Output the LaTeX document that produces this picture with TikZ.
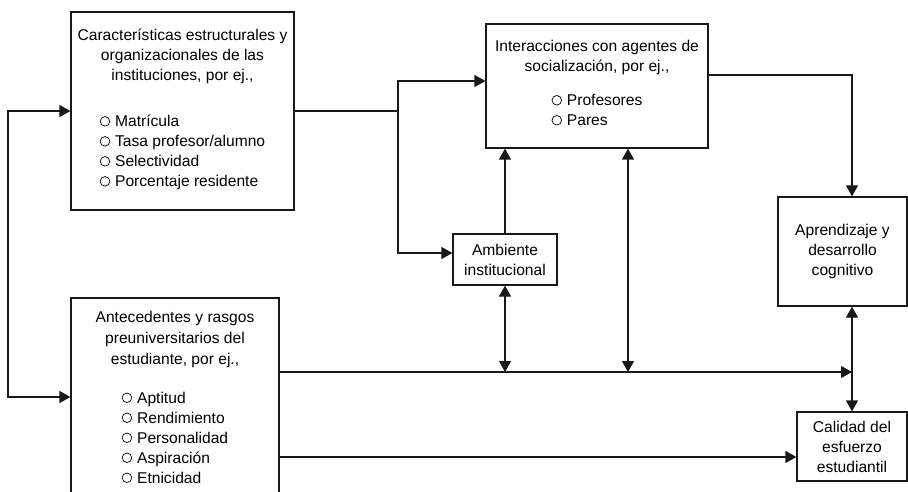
\documentclass[tikz,border=0pt]{standalone}
\usepackage{fontspec}
\setmainfont{Liberation Sans}
\usetikzlibrary{arrows.meta,positioning,calc}
\definecolor{linegray}{RGB}{25,25,25}
\newcommand{\itemc}{\tikz[baseline=-5.5pt]\draw[line width=0.7pt] (0,0) circle[radius=4.8pt];\hspace{5pt}}

\begin{document}
\begin{tikzpicture}[x=1pt, y=-1pt,
    font=\fontsize{15.6}{20}\selectfont,
    box/.style={draw=linegray, line width=1.2pt, align=center, inner sep=0pt},
    flow/.style={draw=linegray, line width=1.2pt, -{Triangle[length=11pt,width=12pt]}},
    both/.style={flow, {Triangle[length=11pt,width=12pt]}-{Triangle[length=11pt,width=12pt]}}]
    \path[use as bounding box, clip] (0,0) rectangle (908,492);

    % Institutional characteristics
    \node[box, minimum width=223pt, minimum height=198pt] (estruct) at (182.5,111)
        {Características estructurales y\\organizacionales de las\\instituciones, por ej.,\\[28pt]
         \begin{tabular}{@{}l@{}}\itemc Matrícula\\ \itemc Tasa profesor/alumno\\ \itemc Selectividad\\ \itemc Porcentaje residente\end{tabular}};

    % Student background (bottom cut off)
    \node[box, minimum width=208pt, minimum height=204pt] (antec) at (175,400)
        {Antecedentes y rasgos\\[1pt]preuniversitarios del\\[1pt]estudiante, por ej.,\\[21pt]
         \begin{tabular}{@{}l@{}}\itemc Aptitud\\ \itemc Rendimiento\\ \itemc Personalidad\\ \itemc Aspiración\\ \itemc Etnicidad\end{tabular}};

    % Socialization agents
    \node[box, minimum width=222pt, minimum height=124pt] (interac) at (597,86)
        {Interacciones con agentes de\\socialización, por ej.,\\[16pt]
         \begin{tabular}{@{}l@{}}\itemc Profesores\\ \itemc Pares\end{tabular}};

    % Environment and outcomes
    \node[box, minimum width=104pt, minimum height=51pt] (ambiente) at (505,259.5) {Ambiente\\institucional};
    \node[box, minimum width=129pt, minimum height=109pt] (aprend) at (842.5,251.5) {Aprendizaje y\\desarrollo\\cognitivo};
    \node[box, minimum width=110pt, minimum height=69pt] (calidad) at (852,446.5) {Calidad del\\esfuerzo\\estudiantil};

    % Helper points
    \coordinate (split) at (398,111);
    \coordinate (leftrail) at (8,0);
    \coordinate (rail) at ([yshift=28pt]antec.east);
    \coordinate (low) at ([yshift=-57pt]antec.east);

    % Connectors
    \draw[flow] (estruct.east) -- (split) |- ([yshift=5pt]interac.west);
    \draw[flow] (split) |- ([yshift=6.5pt]ambiente.west);
    \draw[flow] (ambiente.north) -- (ambiente.north |- interac.south);
    \draw[flow] ([yshift=11pt]interac.east) -| (calidad.north |- aprend.north);
    \draw[flow] (rail) -- (calidad.north |- rail);
    \draw[both] (ambiente.south) -- (ambiente.south |- rail);
    \draw[both] ([xshift=31pt]interac.south) -- ([xshift=31pt]interac.south |- rail);
    \draw[both] (calidad.north |- aprend.south) -- (calidad.north);
    \draw[flow] (low) -- (calidad.west |- low);
    \draw[both] (estruct.west) -- (estruct.west -| leftrail) -- ([yshift=3pt]antec.west -| leftrail) -- ([yshift=3pt]antec.west);
\end{tikzpicture}
\end{document}
